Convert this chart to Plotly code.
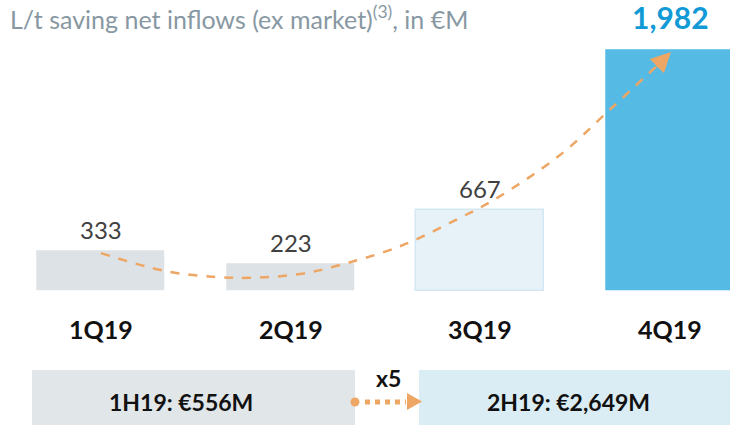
import plotly.graph_objects as go

# ---- data ----
categories = ["1Q19", "2Q19", "3Q19", "4Q19"]
values = [333, 223, 667, 1982]
value_labels = ["333", "223", "667", "1,982"]
bar_colors = ["#dde2e6", "#dde2e6", "#e7f2f8", "#55bae4"]
half_labels = ["1H19: €556M", "2H19: €2,649M"]
growth_label = "x5"
title_text = "L/t saving net inflows (ex market)<sup>(3)</sup>, in €M"
# trend curve (decorative) in data units
trend_x = [0, 0.34, 0.61, 0.8, 1.05, 1.22, 1.58, 1.89, 2.07, 2.42, 2.68, 2.93]
trend_y = [312, 164, 115, 109, 140, 197, 370, 600, 748, 1118, 1488, 1850]

W, H = 730, 426
ORANGE = "#eda663"
FONT = "Lato"

x_idx = list(range(len(categories)))

fig = go.Figure()
fig.add_trace(go.Bar(
    x=x_idx, y=values, width=0.675,
    marker=dict(color=bar_colors,
                line=dict(color=["rgba(0,0,0,0)", "rgba(0,0,0,0)", "#d3e8f2", "rgba(0,0,0,0)"], width=1.5)),
    hoverinfo="skip", showlegend=False))

fig.add_trace(go.Scatter(
    x=trend_x, y=trend_y, mode="lines",
    line=dict(color=ORANGE, width=2.5, dash="dash", shape="spline", smoothing=1.0),
    hoverinfo="skip", showlegend=False))

annotations = []
# arrowhead of trend curve
annotations.append(dict(x=3.005, y=1965, xref="x", yref="y", ax=-16, ay=16, text="",
                        showarrow=True, arrowhead=2, arrowsize=1.6, arrowwidth=2.5, arrowcolor=ORANGE))

# value labels
for i, (v, lab) in enumerate(zip(values, value_labels)):
    if i == 3:
        annotations.append(dict(x=i, y=v, xref="x", yref="y", text="<b>" + lab + "</b>",
                                showarrow=False, xanchor="center", yanchor="bottom", yshift=13,
                                font=dict(family=FONT, size=30, color="#129ad6")))
    else:
        annotations.append(dict(x=i, y=v, xref="x", yref="y", text=lab,
                                showarrow=False, xanchor="center", yanchor="bottom", yshift=5,
                                font=dict(family=FONT, size=24, color="#404040")))

# category labels
for i, c in enumerate(categories):
    annotations.append(dict(x=i, y=0, xref="x", yref="y", text="<b>" + c + "</b>",
                            showarrow=False, xanchor="center", yanchor="middle", yshift=-38,
                            font=dict(family=FONT, size=25, color="#111111")))

# title
annotations.append(dict(x=8 / W, y=1 - 18 / H, xref="paper", yref="paper", text=title_text,
                        showarrow=False, xanchor="left", yanchor="middle",
                        font=dict(family=FONT, size=25, color="#8898a3")))

# bottom boxes text
annotations.append(dict(x=181 / W, y=1 - 402 / H, xref="paper", yref="paper", text="<b>" + half_labels[0] + "</b>",
                        showarrow=False, xanchor="center", yanchor="middle",
                        font=dict(family=FONT, size=23, color="#111111")))
annotations.append(dict(x=568 / W, y=1 - 402 / H, xref="paper", yref="paper", text="<b>" + half_labels[1] + "</b>",
                        showarrow=False, xanchor="center", yanchor="middle",
                        font=dict(family=FONT, size=23, color="#111111")))
annotations.append(dict(x=388 / W, y=1 - 378 / H, xref="paper", yref="paper", text="<b>" + growth_label + "</b>",
                        showarrow=False, xanchor="center", yanchor="middle",
                        font=dict(family=FONT, size=23, color="#111111")))

def px(x):
    return x / W

def py(y):
    return 1 - y / H

shapes = [
    dict(type="rect", xref="paper", yref="paper", x0=px(32), x1=px(355), y0=py(425), y1=py(370),
         fillcolor="#e1e6e9", line=dict(width=0), layer="below"),
    dict(type="rect", xref="paper", yref="paper", x0=px(419), x1=px(730), y0=py(425), y1=py(370),
         fillcolor="#daedf4", line=dict(width=0), layer="below"),
    dict(type="line", xref="paper", yref="paper", x0=px(365), x1=px(406), y0=py(402), y1=py(402),
         line=dict(color=ORANGE, width=5, dash="dot")),
    dict(type="circle", xref="paper", yref="paper", x0=px(350.5), x1=px(359.5), y0=py(406.5), y1=py(397.5),
         fillcolor=ORANGE, line=dict(width=0)),
    dict(type="path", xref="paper", yref="paper",
         path=f"M {px(407)} {py(393)} L {px(422)} {py(401.5)} L {px(407)} {py(410)} Z",
         fillcolor=ORANGE, line=dict(width=0)),
]

fig.update_layout(
    width=W, height=H,
    margin=dict(l=0, r=0, t=0, b=0),
    paper_bgcolor="white", plot_bgcolor="white",
    xaxis=dict(range=[-0.532, 3.316], visible=False, fixedrange=True),
    yaxis=dict(range=[-1110, 2393], visible=False, fixedrange=True),
    annotations=annotations, shapes=shapes,
    bargap=0,
)

fig.write_html("out.html", config={"displayModeBar": False},
               post_script="document.body.style.margin='0';document.body.style.overflow='hidden';")
